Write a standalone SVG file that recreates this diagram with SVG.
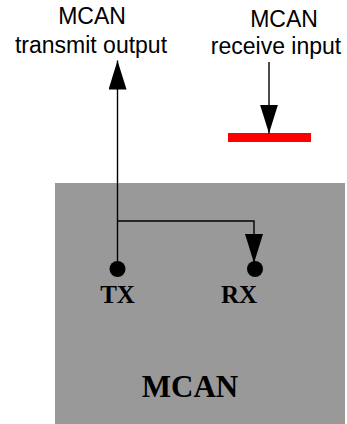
<svg xmlns="http://www.w3.org/2000/svg" width="347" height="424" viewBox="0 0 347 424">
  <style>
    .lbl { font-family: "Liberation Sans", Arial, sans-serif; font-size: 23px; fill: #000; text-anchor: middle; }
    .pin { font-family: "Liberation Serif", "Times New Roman", serif; font-weight: bold; font-size: 25px; fill: #000; text-anchor: middle; }
    .conn { fill: none; stroke: #000; stroke-width: 1.4; }
  </style>
  <defs>
    <marker id="arrow" markerUnits="userSpaceOnUse" markerWidth="30" markerHeight="18" refX="29" refY="9" orient="auto" viewBox="0 0 30 18">
      <path d="M0,0 L29,9 L0,18 Z" fill="#000"/>
    </marker>
  </defs>

  <g id="mcan-block">
    <rect x="55" y="183" width="290" height="241" fill="#999999"/>
    <text class="pin" x="190" y="397" style="font-size:31px">MCAN</text>
  </g>

  <g id="tx-label">
    <text class="lbl" x="92" y="24">MCAN</text>
    <text class="lbl" x="91" y="53">transmit output</text>
  </g>

  <g id="rx-label">
    <text class="lbl" x="284" y="27">MCAN</text>
    <text class="lbl" x="276" y="54">receive input</text>
  </g>

  <g id="receive-bar">
    <rect x="228" y="133" width="83" height="9" fill="#ff0000"/>
  </g>

  <g id="tx">
    <circle cx="117.5" cy="269" r="8" fill="#000"/>
    <text class="pin" x="117.5" y="303">TX</text>
  </g>

  <g id="rx">
    <circle cx="255" cy="269" r="8" fill="#000"/>
    <text class="pin" x="239" y="303">RX</text>
  </g>

  <g id="connectors">
    <path class="conn" d="M117.5,269 L117.5,60.5" marker-end="url(#arrow)"/>
    <path class="conn" d="M117.5,221 L254,221 L254,263" marker-end="url(#arrow)"/>
    <path class="conn" d="M269,62 L269,133.5" marker-end="url(#arrow)"/>
  </g>
</svg>
